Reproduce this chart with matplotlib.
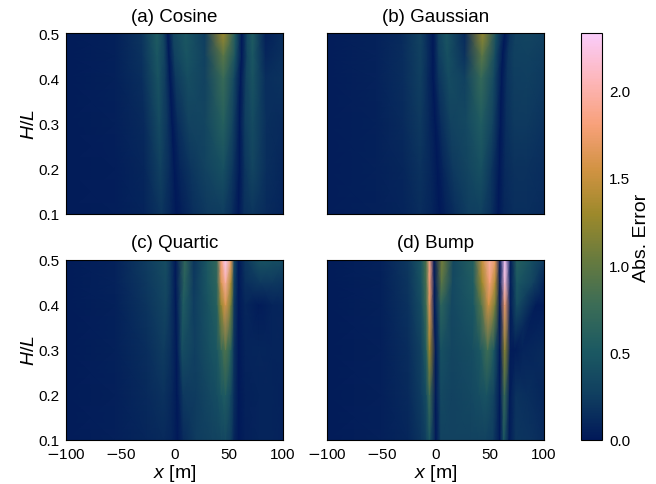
import matplotlib
matplotlib.use('Agg')
import matplotlib.pyplot as plt
from matplotlib.colors import LinearSegmentedColormap
import numpy as np

plt.rcParams['font.family'] = ['Liberation Sans', 'DejaVu Sans']
plt.rcParams['mathtext.fontset'] = 'custom'
plt.rcParams['mathtext.it'] = 'Liberation Sans:italic'
plt.rcParams['mathtext.rm'] = 'Liberation Sans'
plt.rcParams['mathtext.cal'] = 'DejaVu Sans'

batlow = ['#011959', '#103F60', '#1C5A62', '#3C6D56', '#687B3E',
          '#9D892B', '#D29343', '#F8A17B', '#FDB7BC', '#FACCFA']
cmap = LinearSegmentedColormap.from_list('batlow', batlow)
vmax = 2.33

h_levels = [0.1, 0.2, 0.3, 0.4, 0.45, 0.5]
titles = ['(a) Cosine', '(b) Gaussian', '(c) Quartic', '(d) Bump']
x_ticks = [-100, -50, 0, 50, 100]
x_labels = [r'$\mathcal{-}$100', r'$\mathcal{-}$50', '0', '50', '100']

# sample positions along x for each H/L level, with the error read there
x_a = [[-100, -55, -28, -12, -3, 2, 7, 17, 30, 45, 53, 59, 64, 72, 85, 100],
       [-100, -55, -28, -13, -4, 0, 5, 15, 28, 45, 54, 60, 65, 72, 85, 100],
       [-100, -55, -28, -14, -6, -2, 3, 13, 28, 45, 54, 60, 65, 72, 85, 100],
       [-100, -55, -30, -15, -8, -4, 1, 12, 28, 45, 55, 61, 66, 72, 84, 100],
       [-100, -55, -30, -16, -9, -5, 0, 11, 28, 45, 56, 62, 67, 72, 84, 100],
       [-100, -55, -30, -16, -10, -6, -1, 10, 28, 45, 56, 62, 67, 72, 84, 100]]
err_a = [[.02, .04, .08, .2, .08, 0, .05, .15, .22, .25, .15, 0, .15, .2, .12, .08],
         [.02, .04, .1, .28, .12, 0, .1, .2, .3, .42, .2, 0, .2, .32, .15, .1],
         [.02, .05, .12, .38, .18, 0, .14, .3, .32, .6, .3, 0, .25, .38, .15, .12],
         [.02, .06, .15, .45, .22, 0, .22, .4, .3, .75, .35, 0, .3, .45, .15, .18],
         [.02, .06, .18, .5, .28, 0, .28, .46, .28, .95, .45, 0, .32, .5, .1, .16],
         [.02, .06, .2, .55, .32, 0, .32, .5, .25, 1.3, .55, 0, .35, .55, .05, .15]]

x_b = [[-100, -55, -30, -14, -3, 4, 9, 18, 30, 42, 52, 58, 63, 72, 85, 100],
       [-100, -55, -30, -14, -4, 2, 7, 16, 30, 42, 52, 59, 64, 72, 85, 100],
       [-100, -55, -30, -14, -5, 0, 5, 14, 28, 42, 53, 60, 65, 72, 85, 100],
       [-100, -55, -30, -14, -7, -2, 3, 12, 27, 42, 54, 61, 66, 72, 85, 100],
       [-100, -55, -30, -14, -7, -2, 3, 11, 27, 43, 55, 62, 67, 72, 85, 100],
       [-100, -55, -32, -14, -8, -2, 3, 10, 27, 43.5, 56, 64, 69, 74, 85, 100]]
err_b = [[.03, .05, .08, .14, .08, 0, .06, .15, .25, .27, .15, 0, .1, .15, .15, .12],
         [.03, .06, .1, .18, .1, 0, .1, .22, .32, .42, .2, 0, .12, .17, .17, .14],
         [.03, .06, .12, .22, .1, 0, .14, .3, .35, .55, .3, 0, .15, .22, .22, .18],
         [.03, .07, .14, .26, .12, 0, .2, .38, .28, .72, .35, 0, .18, .25, .26, .22],
         [.03, .07, .14, .28, .14, 0, .25, .42, .18, .95, .38, 0, .2, .27, .28, .24],
         [.03, .07, .12, .3, .15, 0, .3, .47, .12, 1.25, .42, 0, .2, .28, .32, .27]]

x_c = [[-100, -55, -25, -10, -2, 3, 8, 20, 35, 39, 43, 47, 52, 55, 59, 65, 78, 90, 100],
       [-100, -55, -25, -10, -2, 2.5, 8, 20, 33, 39, 43, 47, 52, 55, 59, 65, 78, 90, 100],
       [-100, -55, -25, -10, -3, 2, 7, 19, 32, 39, 43, 47, 52, 55, 59, 65, 78, 90, 100],
       [-100, -55, -25, -8, -3, 1.5, 8, 18, 31, 39, 43, 47, 52, 55, 59, 65, 78, 90, 100],
       [-100, -55, -25, -8, -3, 1, 9, 18, 30, 39, 43, 47, 52, 55, 59, 65, 79, 90, 100],
       [-100, -55, -25, -8, -3, 1, 9.5, 18, 30, 39, 43, 47, 52, 55, 59, 65, 79, 90, 100]]
err_c = [[.02, .05, .1, .12, .08, 0, .12, .24, .3, .3, .33, .35, .25, .1, 0, .05, .08, .08, .07],
         [.02, .05, .12, .18, .1, 0, .22, .24, .35, .4, .48, .55, .35, .15, 0, .06, .08, .08, .07],
         [.02, .06, .15, .24, .15, 0, .4, .26, .42, .5, .7, .9, .6, .18, 0, .08, .1, .08, .08],
         [.02, .06, .2, .32, .18, 0, .55, .25, .45, .6, 1.25, 1.6, 1.1, .22, 0, .1, .02, .08, .1],
         [.02, .07, .22, .36, .2, 0, .62, .22, .48, .65, 1.6, 1.95, 1.35, .28, 0, .15, .22, .22, .2],
         [.02, .07, .25, .4, .2, 0, .7, .2, .5, .7, 1.8, 2.33, 1.7, .35, 0, .2, .45, .42, .38]]

x_d = [[-100, -50, -25, -13, -8.5, -5.5, 0.5, 5, 15, 33, 40, 46, 53, 59.5, 63, 68, 74, 88, 100],
       [-100, -50, -25, -13, -8.5, -5.5, 0, 5, 15, 33, 40, 47, 54, 59.5, 63.5, 68.5, 74, 85, 100],
       [-100, -50, -25, -13, -8.5, -5.5, 0, 5, 15, 34, 41, 48, 54, 59.5, 64, 69, 73, 80, 100],
       [-100, -50, -25, -13, -8.5, -5.5, -1, 5, 15, 35, 42, 49, 55, 59.5, 64, 69, 75, 93, 100],
       [-100, -50, -25, -13, -8.5, -5.5, -1, 5.5, 16, 35, 43, 50, 55, 59.5, 64, 69, 75, 90, 100],
       [-100, -50, -25, -13, -8.5, -5.5, -1.3, 6, 16.5, 35, 43, 50, 55, 59.5, 64, 69, 75, 88, 100]]
err_d = [[.02, .05, .1, .2, .28, .5, 0, .3, .3, .3, .3, .3, .25, 0, .5, .02, .2, .18, .12],
         [.02, .05, .12, .25, .4, .8, 0, .35, .3, .35, .4, .45, .3, 0, .75, .02, .18, .15, .1],
         [.02, .05, .14, .3, .6, 1.3, 0, .42, .32, .4, .5, .8, .5, 0, 1.2, .02, .02, .08, .12],
         [.02, .06, .18, .4, .8, 1.65, 0, .65, .34, .5, .9, 1.55, 1.1, 0, 1.75, .02, .4, .02, .03],
         [.02, .06, .2, .45, .85, 1.78, 0, .95, .35, .55, 1.3, 1.8, 1.4, 0, 2.2, .02, .5, .3, .08],
         [.02, .07, .22, .5, .9, 1.85, 0, 1.1, .35, .6, 1.5, 1.98, 1.7, 0, 2.33, .02, .6, .42, .22]]

xs = [x_a, x_b, x_c, x_d]
errs = [err_a, err_b, err_c, err_d]

W, H = 656, 485
fig = plt.figure(figsize=(W / 100, H / 100), dpi=100)

def box(l, t, r, b):
    return [l / W, 1 - b / H, (r - l) / W, (b - t) / H]

panels = [(66, 34, 283, 215), (327, 34, 544, 215),
          (66, 261, 283, 441), (327, 261, 544, 441)]

for i, p in enumerate(panels):
    ax = fig.add_axes(box(*p))
    X = np.array(xs[i], dtype=float)
    Y = np.repeat(np.array(h_levels)[:, None], X.shape[1], axis=1)
    mesh = ax.pcolormesh(X, Y, np.array(errs[i]), cmap=cmap, vmin=0, vmax=vmax,
                         shading='gouraud', rasterized=True)
    ax.set_xlim(-100, 100)
    ax.set_ylim(0.1, 0.5)
    ax.set_title(titles[i], fontsize=13.5, pad=9)
    ax.set_xticks(x_ticks)
    ax.set_yticks([0.1, 0.2, 0.3, 0.4, 0.5])
    ax.tick_params(labelsize=11, length=0)
    ax.tick_params(axis='y', pad=5)
    ax.tick_params(axis='x', pad=5)
    if i < 2:
        ax.set_xticklabels([])
    else:
        ax.set_xticklabels(x_labels)
        ax.set_xlabel(r'$x$ [m]', fontsize=14, labelpad=1)
    if i % 2 == 1:
        ax.set_yticklabels([])
    else:
        ax.set_ylabel(r'$H/L$', fontsize=14, labelpad=0)

cax = fig.add_axes(box(581, 34, 602, 441))
cb = fig.colorbar(mesh, cax=cax)
cb.set_ticks([0, 0.5, 1, 1.5, 2])
cb.ax.tick_params(labelsize=11, length=0, pad=5)
cb.set_label('Abs. Error', fontsize=14, labelpad=2)

plt.savefig('out.png', dpi=100)
